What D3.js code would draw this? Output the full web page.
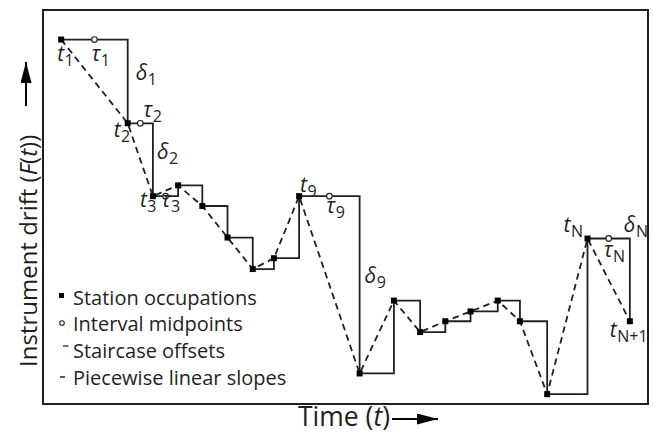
<!DOCTYPE html>
<html>
<head>
<meta charset="utf-8">
<script src="https://cdn.jsdelivr.net/npm/d3@7"></script>
<style>
  body { margin: 0; background: #fff; }
  svg { display: block; font-family: "Open Sans", sans-serif; }
</style>
</head>
<body>
<div id="chart"></div>
<script>
// station occupation times and drift readings (arbitrary units)
const times = [1.8, 8.4, 10.9, 13.4, 15.8, 18.3, 20.8, 22.9, 25.4, 31.4, 34.8, 37.4, 39.9, 42.4, 45.1, 47.3, 50.0, 54.0, 58.2];
const drift = [37.0, 28.5, 21.1, 22.2, 20.1, 16.9, 13.7, 14.8, 21.1, 3.1, 10.5, 7.3, 8.4, 9.4, 10.5, 8.4, 1.0, 16.8, 8.4];

// intervals that get a midpoint marker (index of interval start)
const midpointIntervals = [0, 1, 2, 8, 17];

// annotations: [station/interval index, subscript]
const stationLabels = [[0, '1'], [1, '2'], [2, '3'], [8, '9'], [17, 'N'], [18, 'N+1']];
const midpointLabels = [[0, '1'], [1, '2'], [2, '3'], [8, '9'], [17, 'N']];
const offsetLabels = [[0, '1'], [1, '2'], [8, '9'], [17, 'N']];

const legendItems = ['Station occupations', 'Interval midpoints', 'Staircase offsets', 'Piecewise linear slopes'];

const W = 654, H = 433;
const frame = { left: 43, right: 648, top: 10, bottom: 404 };
const ink = '#231f20';

const svg = d3.select('#chart').append('svg')
  .attr('width', W)
  .attr('height', H);

const x = d3.scaleLinear().domain([0, 60]).range([frame.left, frame.right]);
const y = d3.scaleLinear().domain([0, 40]).range([frame.bottom, frame.top]);

const stations = times.map((t, i) => ({ t, f: drift[i], i }));

// frame
svg.append('rect')
  .attr('x', frame.left)
  .attr('y', frame.top)
  .attr('width', frame.right - frame.left)
  .attr('height', frame.bottom - frame.top)
  .attr('fill', 'none')
  .attr('stroke', ink)
  .attr('stroke-width', 2);

// piecewise linear slopes
svg.append('path')
  .datum(stations)
  .attr('d', d3.line().x(d => x(d.t)).y(d => y(d.f)))
  .attr('fill', 'none')
  .attr('stroke', ink)
  .attr('stroke-width', 1.8)
  .attr('stroke-dasharray', '6.5,4.5');

// staircase offsets
svg.append('path')
  .datum(stations)
  .attr('d', d3.line().x(d => x(d.t)).y(d => y(d.f)).curve(d3.curveStepAfter))
  .attr('fill', 'none')
  .attr('stroke', ink)
  .attr('stroke-width', 1.8);

// station squares
svg.append('g')
  .selectAll('rect')
  .data(stations)
  .enter()
  .append('rect')
  .attr('x', d => x(d.t) - 3)
  .attr('y', d => y(d.f) - 3)
  .attr('width', 6)
  .attr('height', 6)
  .attr('fill', '#000');

// interval midpoints
const midX = i => (x(times[i]) + x(times[i + 1])) / 2;
svg.append('g')
  .selectAll('circle')
  .data(midpointIntervals)
  .enter()
  .append('circle')
  .attr('cx', i => midX(i))
  .attr('cy', i => y(drift[i]))
  .attr('r', 2.8)
  .attr('fill', '#fff')
  .attr('stroke', ink)
  .attr('stroke-width', 1.2);

// symbol with subscript
function symbol(px, py, sym, sub) {
  const t = svg.append('text')
    .attr('x', px)
    .attr('y', py)
    .attr('fill', ink);
  t.append('tspan')
    .attr('font-style', 'italic')
    .attr('font-size', 21)
    .text(sym);
  t.append('tspan')
    .attr('font-size', 16)
    .attr('dy', 5)
    .attr('dx', 0.5)
    .text(sub);
}

// label nudges, px
const stationNudge = { 0: [-4, 21], 1: [-14, 14], 2: [-13, 11], 8: [1, -4], 17: [-24, -7], 18: [-20, 16] };
const midNudge = { 0: [-3, 21], 1: [3, -6], 2: [-4, 11], 8: [-3, 17], 17: [-5, 18] };
const offsetNudge = { 0: [8, -1], 1: [4, -1], 8: [5, -2], 17: [-6, -48] };

stationLabels.forEach(([i, sub]) => {
  const [dx, dy] = stationNudge[i];
  symbol(x(times[i]) + dx, y(drift[i]) + dy, 't', sub);
});
midpointLabels.forEach(([i, sub]) => {
  const [dx, dy] = midNudge[i];
  symbol(midX(i) + dx, y(drift[i]) + dy, 'τ', sub);
});
offsetLabels.forEach(([i, sub]) => {
  const [dx, dy] = offsetNudge[i];
  const vx = x(times[i + 1]);
  const vy = (y(drift[i]) + y(drift[i + 1])) / 2;
  symbol(vx + dx, vy + dy, 'δ', sub);
});

// legend
const legend = svg.append('g').attr('transform', 'translate(62, 0)');
const legendY = [298, 324, 351, 378];
legendItems.forEach((label, k) => {
  legend.append('text')
    .attr('x', 11)
    .attr('y', legendY[k] + 7)
    .attr('font-size', 20)
    .attr('fill', ink)
    .text(label);
});
legend.append('rect').attr('x', -3).attr('y', legendY[0] - 5).attr('width', 5).attr('height', 5).attr('fill', '#000');
legend.append('circle').attr('cx', 0).attr('cy', legendY[1] - 1).attr('r', 2.3)
  .attr('fill', '#fff').attr('stroke', ink).attr('stroke-width', 1.1);
legend.append('line').attr('x1', 1).attr('x2', 6.5).attr('y1', legendY[2] - 5).attr('y2', legendY[2] - 5)
  .attr('stroke', ink).attr('stroke-width', 1.3);
legend.append('line').attr('x1', -2).attr('x2', 3).attr('y1', legendY[3] - 1).attr('y2', legendY[3] - 1)
  .attr('stroke', ink).attr('stroke-width', 1.5);

// arrowhead marker
svg.append('defs').append('marker')
  .attr('id', 'arrow')
  .attr('viewBox', '0 0 10 10')
  .attr('refX', 10)
  .attr('refY', 5)
  .attr('markerUnits', 'userSpaceOnUse')
  .attr('markerWidth', 21)
  .attr('markerHeight', 11)
  .attr('orient', 'auto')
  .attr('preserveAspectRatio', 'none')
  .append('path')
  .attr('d', 'M0,0 L10,5 L0,10 Z')
  .attr('fill', '#000');

// x axis title
const xt = svg.append('text')
  .attr('x', 298)
  .attr('y', 426)
  .attr('font-size', 26.5)
  .attr('fill', ink);
xt.append('tspan').text('Time (');
xt.append('tspan').attr('font-style', 'italic').text('t');
xt.append('tspan').text(')');
svg.append('line')
  .attr('x1', 392).attr('x2', 438)
  .attr('y1', 419).attr('y2', 419)
  .attr('stroke', '#000').attr('stroke-width', 2)
  .attr('marker-end', 'url(#arrow)');

// y axis title
const yt = svg.append('text')
  .attr('transform', 'translate(37, 367) rotate(-90)')
  .attr('font-size', 24)
  .attr('fill', ink);
yt.append('tspan').text('Instrument drift (');
yt.append('tspan').attr('font-style', 'italic').text('F');
yt.append('tspan').text('(');
yt.append('tspan').attr('font-style', 'italic').text('t');
yt.append('tspan').text('))');
svg.append('line')
  .attr('x1', 26).attr('x2', 26)
  .attr('y1', 106).attr('y2', 62)
  .attr('stroke', '#000').attr('stroke-width', 2)
  .attr('marker-end', 'url(#arrow)');
</script>
</body>
</html>
